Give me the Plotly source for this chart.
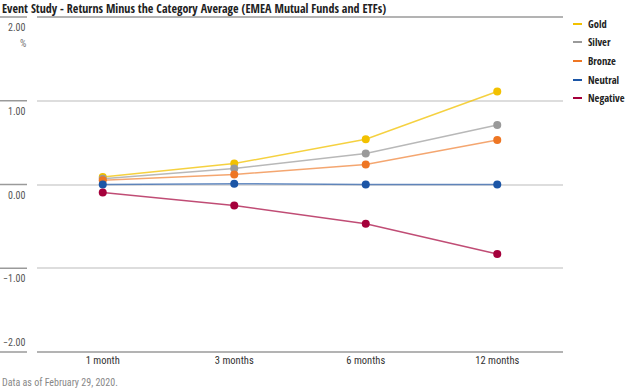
import plotly.graph_objects as go

categories = ["1 month", "3 months", "6 months", "12 months"]
gold = [0.09, 0.25, 0.54, 1.11]
silver = [0.07, 0.19, 0.37, 0.71]
bronze = [0.05, 0.12, 0.24, 0.53]
neutral = [0.0, 0.01, 0.0, 0.0]
negative = [-0.095, -0.25, -0.47, -0.83]
series_names = ["Gold", "Silver", "Bronze", "Neutral", "Negative"]
y_ticks = [2, 1, 0, -1, -2]
y_tick_labels = ["2.00", "1.00", "0.00", "\u22121.00", "\u22122.00"]

marker_colors = ["#F2C100", "#9A9A9A", "#EE7623", "#1B55A6", "#A5003B"]
line_colors = ["rgba(242,193,0,0.75)", "rgba(154,154,154,0.7)", "rgba(238,118,35,0.65)",
               "rgba(27,85,166,0.65)", "rgba(165,0,59,0.7)"]

BOLD = "Open Sans Condensed, Roboto Condensed, sans-serif"
REG = "Roboto Condensed, DejaVu Sans Condensed, sans-serif"

W, H = 625, 390
L, R, T, B = 37, 563, 17, 352
pw, ph = R - L, B - T

def px(x):
    return (x - L) / pw

def py(y):
    return (B - y) / ph

fig = go.Figure()
for name, vals, mc, lc in zip(series_names, [gold, silver, bronze, neutral, negative], marker_colors, line_colors):
    fig.add_trace(go.Scatter(x=categories, y=vals, mode="lines+markers", name=name,
                             line=dict(color=lc, width=1.5),
                             marker=dict(color=mc, size=8), showlegend=False,
                             hoverinfo="skip"))

shapes = []
annotations = []
for v, lab in zip(y_ticks, y_tick_labels):
    yp = (v + 2) / 4.0
    if v in (2, -2):
        shapes.append(dict(type="line", xref="paper", yref="paper", x0=0, x1=1, y0=yp, y1=yp,
                           line=dict(color="#9a9a9a", width=1.5), layer="above"))
    shapes.append(dict(type="line", xref="paper", yref="paper", x0=px(0), x1=px(27), y0=yp, y1=yp,
                       line=dict(color="#9a9a9a", width=1.5)))
    annotations.append(dict(xref="paper", yref="y", x=px(28), y=v, text=lab, showarrow=False,
                            xanchor="right", yanchor="bottom" if v == -2 else "top",
                            yshift=2 if v == -2 else -3,
                            font=dict(family=REG, size=10, color="#555555")))
annotations.append(dict(xref="paper", yref="y", x=px(28), y=2, text="%", showarrow=False,
                        xanchor="right", yanchor="top", yshift=-19,
                        font=dict(family=REG, size=10, color="#777777")))

# Title and footer
annotations.append(dict(xref="paper", yref="paper", x=px(0), y=py(8), text="<b>Event Study - Returns Minus the Category Average (EMEA Mutual Funds and ETFs)</b>",
                        showarrow=False, xanchor="left", yanchor="middle",
                        font=dict(family=BOLD, size=12, color="#222222")))
annotations.append(dict(xref="paper", yref="paper", x=px(0), y=py(382), text="Data as of February 29, 2020.",
                        showarrow=False, xanchor="left", yanchor="middle",
                        font=dict(family=REG, size=10, color="#888888")))

# Legend
leg_y = [24, 42, 61, 80, 98]
for name, mc, ly in zip(series_names, marker_colors, leg_y):
    shapes.append(dict(type="line", xref="paper", yref="paper", x0=px(573), x1=px(582), y0=py(ly), y1=py(ly),
                       line=dict(color=mc, width=2)))
    annotations.append(dict(xref="paper", yref="paper", x=px(586), y=py(ly), text="<b>" + name + "</b>",
                            showarrow=False, xanchor="left", yanchor="middle",
                            font=dict(family=BOLD, size=10.5, color="#222222")))

fig.update_layout(
    width=W, height=H,
    margin=dict(l=L, r=W - R, t=T, b=H - B, pad=0),
    paper_bgcolor="white", plot_bgcolor="white",
    showlegend=False,
    shapes=shapes, annotations=annotations,
    xaxis=dict(type="category", range=[-0.5, 3.5], showgrid=False, zeroline=False, showline=False,
               ticks="", ticklen=0, tickfont=dict(family=REG, size=10.5, color="#333333"), fixedrange=True),
    yaxis=dict(range=[-2, 2], tickvals=[1, 0, -1], showticklabels=False, showgrid=True,
               gridcolor="#dddddd", gridwidth=1.5, zeroline=False, showline=False, ticks="",
               fixedrange=True),
)

fig.write_html("out.html", config={"displayModeBar": False},
               post_script="document.body.style.margin='0px';")
